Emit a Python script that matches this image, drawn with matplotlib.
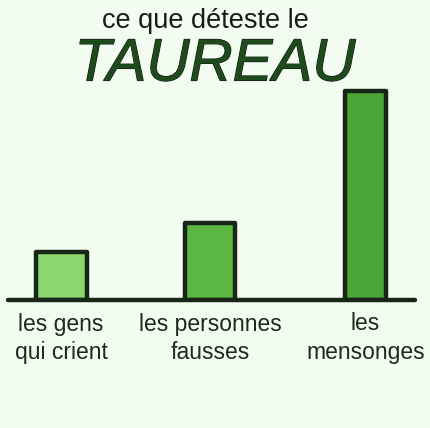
import matplotlib
matplotlib.use("Agg")
import matplotlib.pyplot as plt
import matplotlib.patheffects as pe

# data
categories = ["les gens\nqui crient", "les personnes\nfausses", "les\nmensonges"]
values = [2.3, 3.7, 10.0]
bar_colors = ["#8cd66e", "#5db743", "#4ca637"]
subtitle = "ce que déteste le"
sign = "TAUREAU"

bg = "#f3fcf1"
ink = "#172617"

plt.rcParams["font.family"] = ["Liberation Sans", "DejaVu Sans"]

fig = plt.figure(figsize=(4.30, 4.28), dpi=100, facecolor=bg)
ax = fig.add_axes([0, 1 - 300 / 428, 1, 220 / 428])
ax.set_facecolor(bg)

x_pos = [61, 210, 365.5]
widths = [51, 50, 41]
ax.bar(x_pos, values, width=widths, color=bar_colors, edgecolor=ink,
       linewidth=3.2, joinstyle="round", zorder=2)

# base line
ax.plot([8, 415], [0, 0], color=ink, lw=3.2, solid_capstyle="round", zorder=3,
        clip_on=False)

ax.set_xlim(0, 430)
ax.set_ylim(0, 10 * 220 / 209)
ax.set_xticks(x_pos)
ax.set_xticklabels(categories, fontsize=16.5, color="#1e2a1e", linespacing=1.3)
ax.tick_params(axis="x", length=0, pad=9)
ax.set_yticks([])
for s in ax.spines.values():
    s.set_visible(False)

fig.text(205 / 430, 1 - 21 / 428, subtitle, ha="center", va="center",
         fontsize=19.5, color="#1a1a1a")
fig.text(215 / 430, 1 - 65 / 428, sign, ha="center", va="center",
         fontsize=43, style="italic", color="#1f4a1c",
         path_effects=[pe.withStroke(linewidth=0.8, foreground="#0d160d")])

fig.savefig("out.png", dpi=100, facecolor=bg)
